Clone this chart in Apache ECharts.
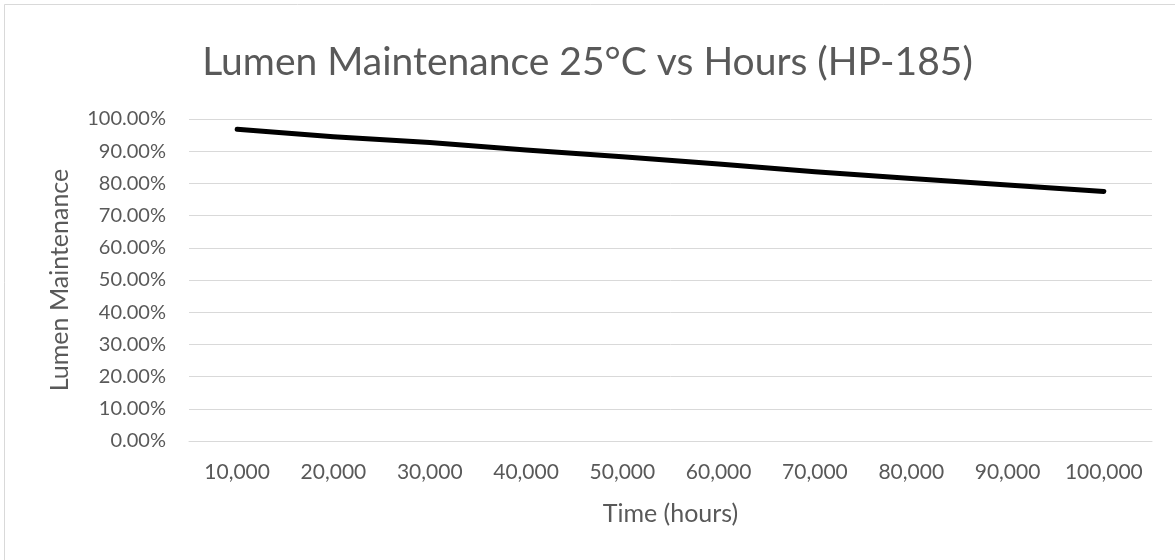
<!DOCTYPE html>
<html>
<head>
<meta charset="utf-8">
<script src="https://cdn.jsdelivr.net/npm/echarts@6/dist/echarts.min.js"></script>
<style>html,body{margin:0;padding:0;background:#fff;}#c{width:1175px;height:560px;}</style>
</head>
<body>
<div id="c"></div>
<script>
const categories = ['10,000','20,000','30,000','40,000','50,000','60,000','70,000','80,000','90,000','100,000'];
const lumenMaintenance = [0.968, 0.945, 0.927, 0.904, 0.883, 0.860, 0.836, 0.815, 0.795, 0.775];
const titleText = 'Lumen Maintenance 25°C vs Hours (HP-185)';
const yAxisName = 'Lumen Maintenance';
const xAxisName = 'Time (hours)';

const FONT = 'Lato, "Open Sans", sans-serif';
const chart = echarts.init(document.getElementById('c'), null, {renderer: 'canvas'});
chart.setOption({
  backgroundColor: '#fff',
  animation: false,
  graphic: [{
    type: 'rect', left: 2, top: 2,
    shape: {x: 0, y: 0, width: 1200, height: 600},
    style: {fill: 'none', stroke: '#d9d9d9', lineWidth: 1}, silent: true, z: -1
  }],
  title: {
    text: titleText, left: 'center', top: 38,
    textStyle: {fontFamily: FONT, fontSize: 39, fontWeight: 'normal', color: '#595959'}
  },
  grid: {left: 189, right: 23, top: 119, bottom: 119, containLabel: false},
  xAxis: {
    type: 'category', data: categories, boundaryGap: true,
    name: xAxisName, nameLocation: 'middle', nameGap: 60,
    nameTextStyle: {fontFamily: FONT, fontSize: 25, color: '#595959'},
    axisLine: {show: true, lineStyle: {color: '#d9d9d9', width: 1}},
    axisTick: {show: false},
    axisLabel: {fontFamily: FONT, fontSize: 21, color: '#595959', margin: 21, interval: 0}
  },
  yAxis: {
    type: 'value', min: 0, max: 1, interval: 0.1,
    name: yAxisName, nameLocation: 'middle', nameGap: 117,
    nameTextStyle: {fontFamily: FONT, fontSize: 25, color: '#595959'},
    axisLine: {show: false}, axisTick: {show: false},
    axisLabel: {fontFamily: FONT, fontSize: 20, color: '#595959', margin: 23,
      formatter: v => (v * 100).toFixed(2) + '%'},
    splitLine: {lineStyle: {color: '#d9d9d9', width: 1}}
  },
  series: [{
    type: 'line', data: lumenMaintenance, symbol: 'none', smooth: false,
    lineStyle: {color: '#000', width: 5, cap: 'round', join: 'round'}
  }]
});
</script>
</body>
</html>
